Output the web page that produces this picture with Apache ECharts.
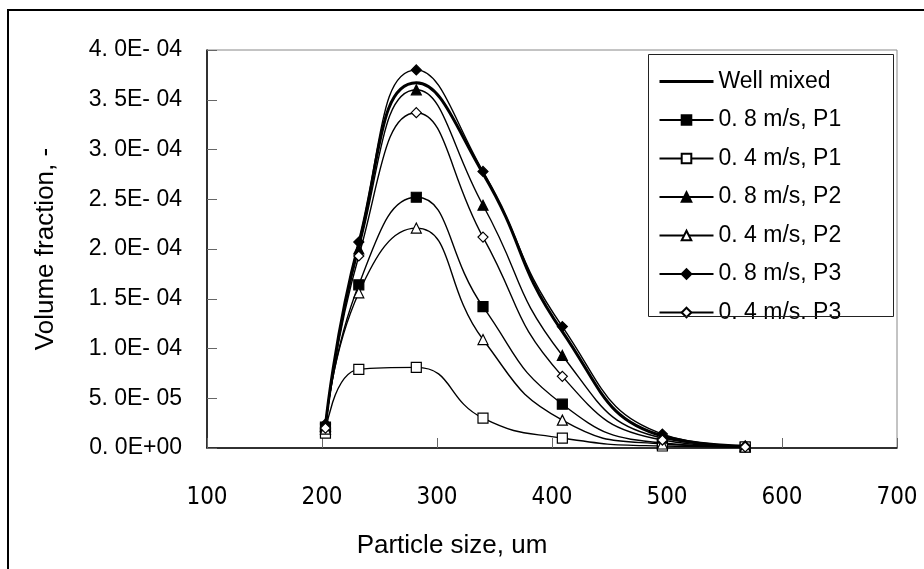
<!DOCTYPE html>
<html><head><meta charset="utf-8">
<script src="https://cdn.jsdelivr.net/npm/echarts@6/dist/echarts.min.js"></script>
<style>html,body{margin:0;padding:0;background:#fff}#c{width:924px;height:569px}</style>
</head><body><div id="c"></div>
<script>
// ---- data ----
const particleSize = [203, 232, 282, 340, 409, 496, 568];
const seriesNames = ["Well mixed", "0. 8 m/s, P1", "0. 4 m/s, P1", "0. 8 m/s, P2", "0. 4 m/s, P2", "0. 8 m/s, P3", "0. 4 m/s. P3"];
const wellMixed = [2.2e-5, 2.06e-4, 3.67e-4, 2.76e-4, 1.17e-4, 1.2e-5, 2e-6];
const v08P1 = [2.1e-5, 1.64e-4, 2.52e-4, 1.42e-4, 4.4e-5, 5e-6, 1e-6];
const v04P1 = [1.5e-5, 7.9e-5, 8.1e-5, 3.0e-5, 1.0e-5, 2e-6, 1e-6];
const v08P2 = [2.2e-5, 2.0e-4, 3.6e-4, 2.44e-4, 9.3e-5, 1.0e-5, 2e-6];
const v04P2 = [1.9e-5, 1.56e-4, 2.21e-4, 1.09e-4, 2.8e-5, 4e-6, 1e-6];
const v08P3 = [2.4e-5, 2.07e-4, 3.8e-4, 2.78e-4, 1.22e-4, 1.4e-5, 2e-6];
const v04P3 = [2.0e-5, 1.93e-4, 3.37e-4, 2.12e-4, 7.2e-5, 8e-6, 1e-6];
const yTickLabels = ["0. 0E+00", "5. 0E- 05", "1. 0E- 04", "1. 5E- 04", "2. 0E- 04", "2. 5E- 04", "3. 0E- 04", "3. 5E- 04", "4. 0E- 04"];
const xTickLabels = ["100", "200", "300", "400", "500", "600", "700"];
const xTitle = "Particle size, um";
const yTitle = "Volume fraction, -";

// ---- chart ----
const FONT = "'Liberation Sans', Arial, sans-serif";
const NARROW = "'Liberation Sans Narrow', 'DejaVu Sans Condensed', 'Liberation Sans', sans-serif";
const pair = arr => particleSize.map((x, i) => [x, arr[i]]);
function mk(name, data, symbol, filled, opts) {
  return Object.assign({
    name: name, type: 'line', data: pair(data), smooth: 0.5,
    symbol: symbol, symbolSize: 10, showSymbol: true,
    lineStyle: { color: '#000', width: 1.4 },
    itemStyle: { color: filled ? '#000' : '#fff', borderColor: '#000', borderWidth: 1.2 },
    emphasis: { disabled: true }, z: 3
  }, opts || {});
}
const legendData = seriesNames.map((n, i) => i === 0
  ? { name: n, itemStyle: { opacity: 0 }, lineStyle: { width: 3, color: '#000' } }
  : { name: n });
const chart = echarts.init(document.getElementById('c'), null, { renderer: 'canvas' });
chart.setOption({
  animation: false,
  backgroundColor: '#fff',
  grid: { left: 207, top: 50, right: 27, bottom: 121, show: true, borderColor: '#888', borderWidth: 1, backgroundColor: 'transparent' },
  xAxis: {
    type: 'value', min: 100, max: 700, interval: 100,
    axisLine: { show: true, onZero: false, lineStyle: { color: '#000', width: 1.5 } },
    axisTick: { show: true, inside: true, length: 10, lineStyle: { color: '#666' } },
    splitLine: { show: false },
    axisLabel: { margin: 38, fontSize: 24, color: '#000', fontFamily: NARROW,
      formatter: v => xTickLabels[Math.round((v - 100) / 100)] }
  },
  yAxis: {
    type: 'value', min: 0, max: 4e-4, interval: 5e-5,
    name: yTitle, nameLocation: 'middle', nameGap: 148, nameRotate: 90,
    nameTextStyle: { fontSize: 26, color: '#000', fontFamily: FONT },
    axisLine: { show: true, lineStyle: { color: '#000', width: 1.5 } },
    axisTick: { show: true, inside: true, length: 10, lineStyle: { color: '#666' } },
    splitLine: { show: false },
    axisLabel: { margin: 25, fontSize: 23, color: '#000', fontFamily: FONT,
      formatter: v => yTickLabels[Math.round(v / 5e-5)] }
  },
  legend: {
    orient: 'vertical', left: 658, top: 70, padding: 0,
    itemWidth: 54, itemHeight: 12, itemGap: 15.5,
    textStyle: { fontSize: 23, lineHeight: 22, color: '#000', fontFamily: FONT },
    data: legendData
  },
  graphic: [
    { type: 'rect', shape: { x: 8, y: 10, width: 940, height: 600 }, style: { fill: 'none', stroke: '#000', lineWidth: 2 }, silent: true, z: 10 },
    { type: 'rect', shape: { x: 648.5, y: 54.5, width: 245, height: 262 }, style: { fill: 'none', stroke: '#222', lineWidth: 1 }, silent: true, z: 10 },
    { type: 'text', x: 452, y: 546, style: { text: xTitle, fontSize: 26, fill: '#000', fontFamily: FONT, textAlign: 'center', textVerticalAlign: 'middle' }, silent: true }
  ],
  series: [
    mk(seriesNames[0], wellMixed, 'none', true, { lineStyle: { color: '#000', width: 3 }, z: 2 }),
    mk(seriesNames[1], v08P1, 'rect', true),
    mk(seriesNames[2], v04P1, 'rect', false),
    mk(seriesNames[3], v08P2, 'triangle', true),
    mk(seriesNames[4], v04P2, 'triangle', false),
    mk(seriesNames[5], v08P3, 'diamond', true),
    mk(seriesNames[6], v04P3, 'diamond', false)
  ]
});
</script></body></html>
